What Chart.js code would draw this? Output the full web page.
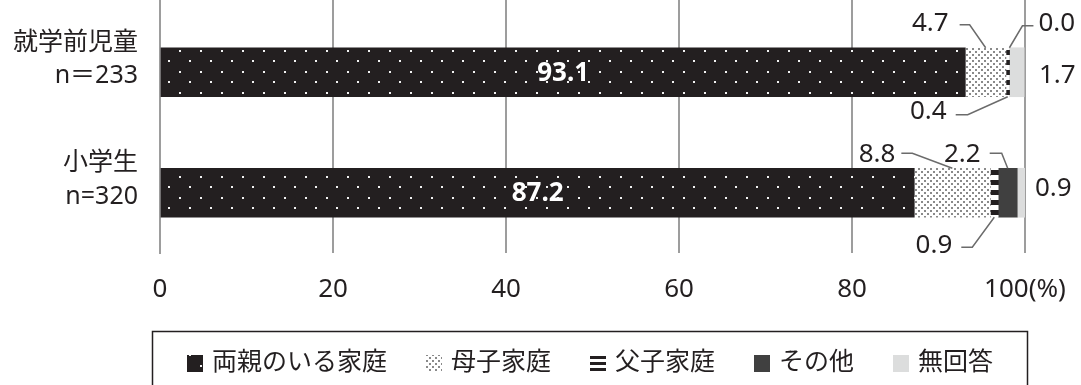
<!DOCTYPE html>
<html>
<head>
<meta charset="utf-8">
<script src="https://cdn.jsdelivr.net/npm/chart.js@4.4.1/dist/chart.umd.min.js"></script>
<style>
html, body { margin: 0; padding: 0; background: #fff; }
</style>
</head>
<body>
<canvas id="myChart" width="1081" height="385"></canvas>
<script>
// data
var groups = [["就学前児童", "n＝233"], ["小学生", "n=320"]];
var seriesNames = ["両親のいる家庭", "母子家庭", "父子家庭", "その他", "無回答"];
var both = [93.1, 87.2];
var mother = [4.7, 8.8];
var father = [0.4, 0.9];
var other = [0.0, 2.2];
var noAnswer = [1.7, 0.9];
var xTicks = [0, 20, 40, 60, 80, 100];

var ink = "#231f20";
var gridColor = "#9d9d9d";
var fontFamily = "'Noto Sans', 'Noto Sans CJK JP', sans-serif";

function makePattern(w, h, draw) {
	var c = document.createElement("canvas");
	c.width = w;
	c.height = h;
	var g = c.getContext("2d");
	draw(g);
	return g.createPattern(c, "repeat");
}

var dotsDark = makePattern(21, 21, function(g) {
	g.fillStyle = ink;
	g.fillRect(0, 0, 21, 21);
	g.fillStyle = "#f2f2f2";
	g.fillRect(11, 8, 2, 2);
	g.fillRect(0, 18, 2, 2);
});
var dotsLight = makePattern(6, 6, function(g) {
	g.fillStyle = "#fff";
	g.fillRect(0, 0, 6, 6);
	g.fillStyle = "#8a8a8a";
	g.fillRect(0, 0, 2, 2);
	g.fillRect(3, 3, 2, 2);
});
var stripes = makePattern(10, 10, function(g) {
	g.fillStyle = "#fff";
	g.fillRect(0, 0, 10, 10);
	g.fillStyle = ink;
	g.fillRect(0, 0, 10, 5);
});

var fills = [dotsDark, dotsLight, stripes, "#404040", "#dcdddd"];
var values = [both, mother, father, other, noAnswer];

// where the outside value labels go: anchor on bar top/bottom, elbow, short horizontal, text
var callouts = [
	{ds: 1, i: 0, side: "top", ex: -16, ey: -23, hx: -10, tx: -11, ty: -1},
	{ds: 3, i: 0, side: "top", ex: 13, ey: -22, hx: 11, tx: 5, ty: -2},
	{ds: 2, i: 0, side: "bottom", ex: -40, ey: 18, hx: -12, tx: -9, ty: -3},
	{ds: 4, i: 0, side: "right", tx: 14, ty: 3},
	{ds: 1, i: 1, side: "top", ex: -40, ey: -15, hx: -11, tx: -6, ty: 1},
	{ds: 3, i: 1, side: "top", ex: -6, ey: -15, hx: -12, tx: -9, ty: 1},
	{ds: 2, i: 1, side: "bottom", ex: -22, ey: 30, hx: -11, tx: -9, ty: -2},
	{ds: 4, i: 1, side: "right", tx: 10, ty: -4}
];

var extras = {
	id: "extras",
	beforeDatasetsDraw: function(chart) {
		// grid lines run up to the top edge
		var ctx = chart.ctx, x = chart.scales.x, area = chart.chartArea;
		ctx.save();
		ctx.strokeStyle = gridColor;
		ctx.lineWidth = 2;
		x.ticks.forEach(function(t) {
			var px = Math.round(x.getPixelForValue(t.value));
			ctx.beginPath();
			ctx.moveTo(px, 0);
			ctx.lineTo(px, area.top + 1);
			ctx.stroke();
		});
		ctx.restore();
	},
	afterDatasetsDraw: function(chart) {
		var ctx = chart.ctx, area = chart.chartArea;
		ctx.save();

		// values inside the big bars
		var meta0 = chart.getDatasetMeta(0);
		ctx.font = "bold 26px " + fontFamily;
		ctx.fillStyle = "#fff";
		ctx.textAlign = "center";
		ctx.textBaseline = "middle";
		meta0.data.forEach(function(bar, i) {
			ctx.fillText(both[i].toFixed(1), (bar.x + bar.base) / 2, bar.y + 1);
		});

		// the rest, outside with leader lines
		ctx.font = "26px " + fontFamily;
		ctx.fillStyle = ink;
		ctx.strokeStyle = "#6b6b6b";
		ctx.lineWidth = 1.5;
		callouts.forEach(function(c) {
			var bar = chart.getDatasetMeta(c.ds).data[c.i];
			var txt = values[c.ds][c.i].toFixed(1);
			if (c.side === "right") {
				ctx.textAlign = "left";
				ctx.fillText(txt, area.right + c.tx, bar.y + c.ty);
				return;
			}
			var ax = (bar.x + bar.base) / 2;
			var ay = c.side === "top" ? bar.y - bar.height / 2 : bar.y + bar.height / 2;
			var bx = ax + c.ex, by = ay + c.ey;
			ctx.beginPath();
			ctx.moveTo(ax, ay);
			ctx.lineTo(bx, by);
			ctx.lineTo(bx + c.hx, by);
			ctx.stroke();
			ctx.textAlign = c.hx < 0 ? "right" : "left";
			ctx.fillText(txt, bx + c.hx + c.tx, by + c.ty);
		});
		ctx.restore();
	},
	afterDraw: function(chart) {
		// legend in a box under the axis
		var ctx = chart.ctx;
		ctx.save();
		ctx.strokeStyle = ink;
		ctx.lineWidth = 1.5;
		ctx.strokeRect(152.5, 331.5, 875, 80);

		ctx.font = "25px " + fontFamily;
		ctx.textBaseline = "middle";
		ctx.textAlign = "left";
		var box = 16, gapIn = 9, gapOut = 39, cy = 363;
		var widths = seriesNames.map(function(s) { return ctx.measureText(s).width; });
		var total = widths.reduce(function(a, b) { return a + b; }, 0) + seriesNames.length * (box + gapIn) + (seriesNames.length - 1) * gapOut;
		var x = 590 - total / 2;
		seriesNames.forEach(function(s, i) {
			var mx = Math.round(x), my = cy - 8;
			if (i === 2) {
				// striped key drawn as three thin bars
				ctx.fillStyle = "#fff";
				ctx.fillRect(mx, my, box, 17);
				ctx.fillStyle = ink;
				ctx.fillRect(mx, my + 1, box, 3);
				ctx.fillRect(mx, my + 7, box, 3);
				ctx.fillRect(mx, my + 13, box, 3);
			} else {
				ctx.fillStyle = fills[i];
				ctx.fillRect(mx, my, box, 17);
			}
			ctx.fillStyle = ink;
			ctx.fillText(s, x + box + gapIn, cy);
			x += box + gapIn + widths[i] + gapOut;
		});
		ctx.restore();
	}
};

var datasets = seriesNames.map(function(name, k) {
	return {
		label: name,
		data: values[k],
		backgroundColor: fills[k],
		borderWidth: 0,
		barThickness: 49
	};
});

Chart.defaults.font.family = fontFamily;
Chart.defaults.color = ink;

var myChart = new Chart(document.getElementById("myChart"), {
	type: "bar",
	data: {
		labels: groups,
		datasets: datasets
	},
	options: {
		indexAxis: "y",
		responsive: false,
		animation: false,
		layout: { padding: { top: 12, right: 56, bottom: 0, left: 0 } },
		plugins: {
			legend: { display: false },
			tooltip: { enabled: false }
		},
		scales: {
			x: {
				stacked: true,
				min: 0,
				max: 100,
				afterBuildTicks: function(s) {
					s.ticks = xTicks.map(function(v) { return {value: v}; });
				},
				afterFit: function(s) {
					s.height = 132;
					s.paddingLeft = 0;
					s.paddingRight = 0;
				},
				grid: { color: gridColor, lineWidth: 2, drawTicks: false },
				border: { display: false },
				ticks: {
					font: { size: 26 },
					padding: 21,
					maxRotation: 0,
					callback: function(v) { return v === 100 ? "100(%)" : v; }
				}
			},
			y: {
				stacked: true,
				afterFit: function(s) {
					s.width = 160;
					s.paddingTop = 0;
					s.paddingBottom = 0;
				},
				grid: { display: false, drawTicks: false },
				border: { display: true, color: gridColor, width: 2 },
				ticks: {
					font: { size: 25, lineHeight: 1.34 },
					padding: 22,
					labelOffset: -13
				}
			}
		}
	},
	plugins: [extras]
});
</script>
</body>
</html>
